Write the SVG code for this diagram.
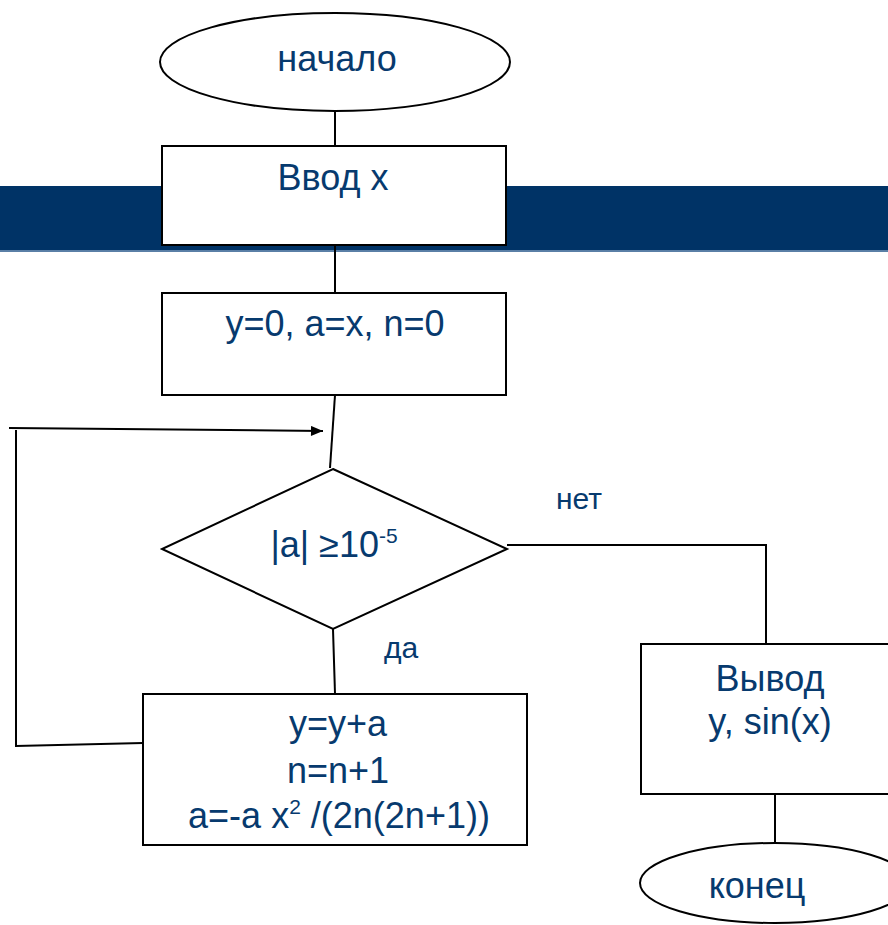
<svg xmlns="http://www.w3.org/2000/svg" width="888" height="925" viewBox="0 0 888 925">
<defs>
<style>
.s{fill:#fff;stroke:#000;stroke-width:2}
.c{fill:none;stroke:#000;stroke-width:2}
.t{font-family:"Liberation Sans",Arial,sans-serif;font-size:36px;fill:#073a6e;text-anchor:middle}
.l{font-family:"Liberation Sans",Arial,sans-serif;font-size:30px;fill:#073a6e;text-anchor:middle}
</style>
<marker id="ah" viewBox="0 0 12 10" refX="12" refY="5" markerWidth="13" markerHeight="10" markerUnits="userSpaceOnUse" orient="auto"><path d="M0,0 L12,5 L0,10 z" fill="#000"/></marker>
</defs>
<rect x="0" y="186" width="888" height="65" fill="#003366"/>
<rect x="0" y="250" width="888" height="2" fill="#5a7fa6"/>
<g id="connectors">
<line class="c" x1="335" y1="112" x2="335" y2="146"/>
<line class="c" x1="335" y1="245" x2="335" y2="293"/>
<line class="c" x1="335" y1="395" x2="330" y2="468"/>
<line class="c" x1="333" y1="629" x2="335" y2="694"/>
<polyline class="c" points="507,545 766,545 766,644"/>
<line class="c" x1="775" y1="794" x2="775" y2="843"/>
<polyline class="c" points="143,743 16,746 16,430"/>
<line class="c" x1="9" y1="428" x2="323" y2="431" marker-end="url(#ah)"/>
</g>
<g id="start">
<ellipse class="s" cx="335" cy="62" rx="175" ry="49"/>
<text class="t" x="337" y="71">начало</text>
</g>
<g id="input">
<rect class="s" x="162" y="146" width="344" height="99"/>
<text class="t" x="333" y="190">Ввод x</text>
</g>
<g id="init">
<rect class="s" x="162" y="293" width="344" height="102"/>
<text class="t" x="335" y="336">y=0, a=x, n=0</text>
</g>
<g id="cond">
<polygon class="s" points="333,469 507,549 333,629 162,549"/>
<text class="t" x="334" y="557">|a| ≥10<tspan font-size="21" dy="-14">-5</tspan></text>
</g>
<text class="l" x="579" y="509">нет</text>
<text class="l" x="401" y="658">да</text>
<g id="body">
<rect class="s" x="143" y="694" width="384" height="151"/>
<text class="t" x="338" y="736">y=y+a</text>
<text class="t" x="338" y="783">n=n+1</text>
<text class="t" x="339" y="828">a=-a x<tspan font-size="21" dy="-14">2</tspan><tspan dy="14"> /(2n(2n+1))</tspan></text>
</g>
<g id="output">
<rect class="s" x="641" y="644" width="268" height="150"/>
<text class="t" x="770" y="691">Вывод</text>
<text class="t" x="770" y="734">y, sin(x)</text>
</g>
<g id="end">
<ellipse class="s" cx="775" cy="883" rx="135" ry="40"/>
<text class="t" x="757" y="898">конец</text>
</g>
</svg>
